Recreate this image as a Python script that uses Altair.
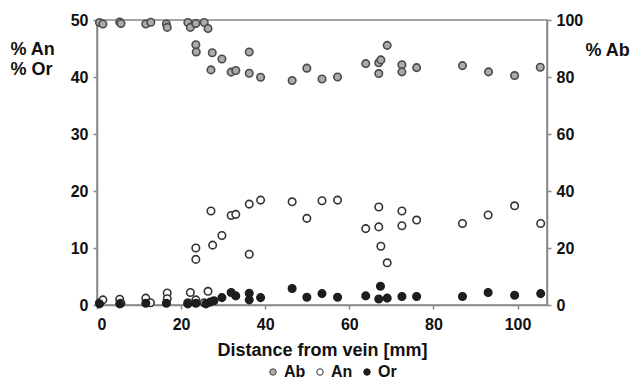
import altair as alt
import pandas as pd

# Distance from vein [mm] and values
ab_x = [0.6, 1.4, 5.4, 5.7, 11.6, 12.8, 16.5, 16.7, 21.6, 22.2, 23.5, 25.5, 26.4, 23.5, 23.6,
        27.4, 29.7, 36.2, 27.1, 31.9, 33.0, 36.2, 38.9, 46.4, 49.9, 53.5, 57.2, 63.9, 67.0, 67.5,
        69.0, 67.0, 72.5, 72.5, 76.0, 86.9, 93.1, 99.3, 105.4]
ab_y = [99.1, 98.6, 99.3, 98.8, 98.6, 99.2, 98.6, 97.4, 99.1, 97.4, 98.8, 99.1, 97.0, 91.3, 88.8,
        88.5, 86.3, 88.8, 82.5, 81.7, 82.3, 81.3, 79.9, 78.8, 83.1, 79.3, 80.0, 84.7, 85.0, 86.0,
        91.1, 81.2, 84.3, 81.8, 83.3, 84.0, 81.8, 80.5, 83.4]

an_x = [0.6, 1.4, 5.4, 5.7, 11.6, 12.7, 16.7, 16.7, 21.6, 22.2, 23.5, 25.5, 26.4, 23.5, 23.5,
        27.5, 27.1, 29.7, 31.9, 33.0, 36.2, 36.2, 38.9, 46.4, 49.9, 53.5, 57.2, 63.9, 67.0, 67.0,
        67.5, 69.0, 72.5, 72.5, 76.0, 86.9, 93.0, 99.3, 105.5]
an_y = [0.4, 0.9, 1.0, 0.3, 1.2, 0.4, 2.1, 1.1, 0.4, 2.2, 0.9, 0.4, 2.4, 10.0, 8.0,
        10.5, 16.5, 12.2, 15.7, 15.9, 17.7, 8.9, 18.4, 18.1, 15.2, 18.3, 18.4, 13.4, 17.2, 13.7,
        10.3, 7.4, 16.5, 13.9, 14.9, 14.3, 15.8, 17.4, 14.3]

or_x = [0.6, 5.4, 11.6, 16.5, 21.6, 23.5, 25.9, 26.9, 27.8, 29.7, 31.9, 33.0, 36.2, 36.2, 38.9,
        46.4, 49.9, 53.5, 57.2, 63.9, 67.4, 67.0, 69.0, 72.5, 76.0, 86.9, 93.0, 99.3, 105.5]
or_y = [0.2, 0.2, 0.3, 0.3, 0.2, 0.3, 0.2, 0.5, 0.75, 1.3, 2.2, 1.6, 2.05, 0.9, 1.3,
        2.9, 1.35, 2.0, 1.35, 1.6, 3.3, 1.05, 1.2, 1.5, 1.5, 1.5, 2.2, 1.7, 2.0]

series = ["Ab", "An", "Or"]
fills = ["#ababab", "#ffffff", "#1e1e1e"]
strokes = ["#4a4a4a", "#333333", "#1e1e1e"]

df_ab = pd.DataFrame({"x": ab_x, "y": ab_y, "s": "Ab"})
df_lo = pd.concat([
    pd.DataFrame({"x": an_x, "y": an_y, "s": "An"}),
    pd.DataFrame({"x": or_x, "y": or_y, "s": "Or"}),
])

FONT = "Liberation Sans"
xenc = alt.X("x:Q", scale=alt.Scale(domain=[0, 107], nice=False),
             axis=alt.Axis(title="Distance from vein [mm]", values=[0, 20, 40, 60, 80, 100],
                           grid=False, titleFontSize=18, titlePadding=9, labelPadding=7))
fill_enc = alt.Fill("s:N", scale=alt.Scale(domain=series, range=fills),
                    legend=alt.Legend(title=None, orient="none", direction="horizontal",
                                      legendX=168, legendY=344, symbolSize=42,
                                      symbolStrokeColor="#333333", symbolStrokeWidth=1,
                                      labelFontSize=16, labelFontWeight="bold", labelFont=FONT,
                                      labelColor="#111111", columnPadding=6, labelOffset=3))
stroke_enc = alt.Stroke("s:N", scale=alt.Scale(domain=series, range=strokes), legend=None)

lower = alt.Chart(df_lo).mark_point(shape="circle", size=56, strokeWidth=1.6, opacity=1, filled=False).encode(
    x=xenc,
    y=alt.Y("y:Q", scale=alt.Scale(domain=[0, 50], nice=False),
            axis=alt.Axis(orient="left", values=[0, 10, 20, 30, 40, 50], grid=False,
                          title=["% An", "% Or"], titleAngle=0, titleAlign="left",
                          titleBaseline="middle", titleX=-87, titleY=29, titleLineHeight=20,
                          titleFontSize=18)),
    fill=fill_enc,
    stroke=stroke_enc,
)

upper = alt.Chart(df_ab).mark_point(shape="circle", size=56, strokeWidth=1.6, opacity=1, filled=False).encode(
    x=xenc,
    y=alt.Y("y:Q", scale=alt.Scale(domain=[0, 100], nice=False),
            axis=alt.Axis(orient="right", values=[0, 20, 40, 60, 80, 100], grid=False,
                          title="% Ab", titleAngle=0, titleAlign="left",
                          titleBaseline="middle", titleX=38, titleY=30, titleFontSize=18)),
    fill=fill_enc,
    stroke=stroke_enc,
)

chart = alt.layer(upper, lower).resolve_scale(y="independent").properties(
    width=450, height=285,
    autosize=alt.AutoSizeParams(type="none"),
    padding={"left": 97, "top": 20, "right": 87, "bottom": 83},
    background="white",
).configure_view(
    stroke="#888888", strokeWidth=1.5
).configure_axis(
    domainColor="#888888", domainWidth=1.5, tickColor="#888888", tickWidth=1.5, tickSize=4,
    labelFont=FONT, labelFontSize=16, labelFontWeight="bold", labelColor="#111111",
    titleFont=FONT, titleFontWeight="bold", titleColor="#111111", labelPadding=5,
)

chart.save("out.html", embed_options={"renderer": "svg", "actions": False})
